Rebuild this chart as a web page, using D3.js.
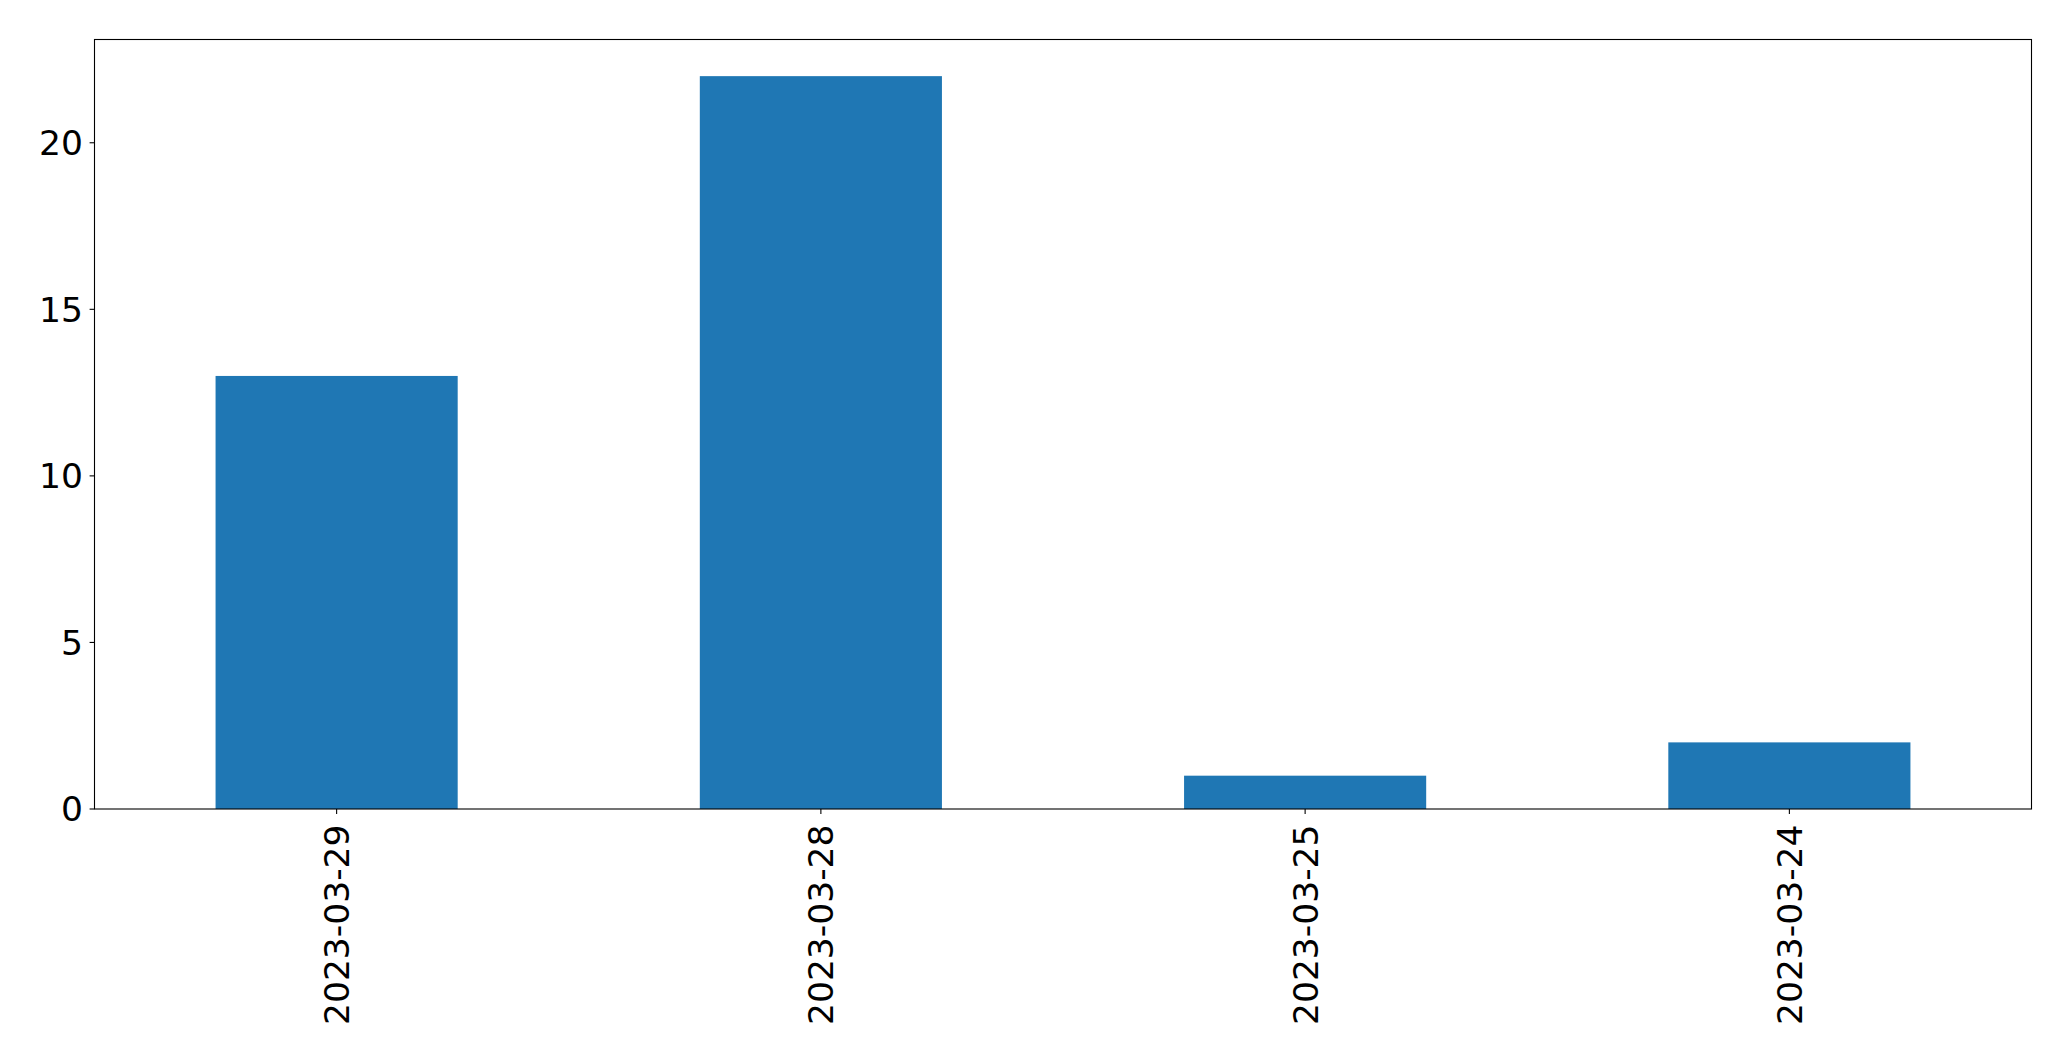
<!DOCTYPE html>
<html>
<head>
<meta charset="utf-8">
<script src="https://cdn.jsdelivr.net/npm/d3@7"></script>
<style>
  html, body { margin: 0; padding: 0; background: #fff; }
  svg { display: block; }
  text { font-family: "DejaVu Sans", sans-serif; fill: #000; }
</style>
</head>
<body>
<svg id="chart" width="2071" height="1061"></svg>
<script>
const categories = ["2023-03-29", "2023-03-28", "2023-03-25", "2023-03-24"];
const values = [13, 22, 1, 2];
const yTicks = [0, 5, 10, 15, 20];

const plotLeft = 94.5, plotRight = 2031.5, plotTop = 39.5, plotBottom = 809;
const fontSize = 34.5;

const svg = d3.select("#chart");

const x = d3.scaleLinear().domain([-0.5, categories.length - 0.5]).range([plotLeft, plotRight]);
const y = d3.scaleLinear().domain([0, d3.max(values) * 1.05]).range([plotBottom, plotTop]);
const barW = 0.5;

svg.append("g").selectAll("rect")
  .data(values)
  .join("rect")
  .attr("x", (d, i) => x(i - barW / 2))
  .attr("width", (d, i) => x(i + barW / 2) - x(i - barW / 2))
  .attr("y", d => y(d))
  .attr("height", d => y(0) - y(d))
  .attr("fill", "#1f77b4");

// frame
svg.append("rect")
  .attr("x", plotLeft).attr("y", plotTop)
  .attr("width", plotRight - plotLeft).attr("height", plotBottom - plotTop)
  .attr("fill", "none").attr("stroke", "#000").attr("stroke-width", 1.1);

// y axis ticks
const yg = svg.append("g");
yTicks.forEach(t => {
  yg.append("line")
    .attr("x1", plotLeft - 4.9).attr("x2", plotLeft)
    .attr("y1", y(t)).attr("y2", y(t))
    .attr("stroke", "#000").attr("stroke-width", 1.1);
  yg.append("text")
    .attr("x", plotLeft - 11.5).attr("y", y(t))
    .attr("dy", "0.36em")
    .attr("text-anchor", "end")
    .attr("font-size", fontSize)
    .text(t);
});

// x axis ticks
const xg = svg.append("g");
categories.forEach((c, i) => {
  xg.append("line")
    .attr("x1", x(i)).attr("x2", x(i))
    .attr("y1", plotBottom).attr("y2", plotBottom + 4.9)
    .attr("stroke", "#000").attr("stroke-width", 1.1);
  xg.append("text")
    .attr("transform", `translate(${x(i)},${plotBottom + 15.5}) rotate(-90)`)
    .attr("dy", "0.36em")
    .attr("text-anchor", "end")
    .attr("font-size", fontSize)
    .text(c);
});
</script>
</body>
</html>
